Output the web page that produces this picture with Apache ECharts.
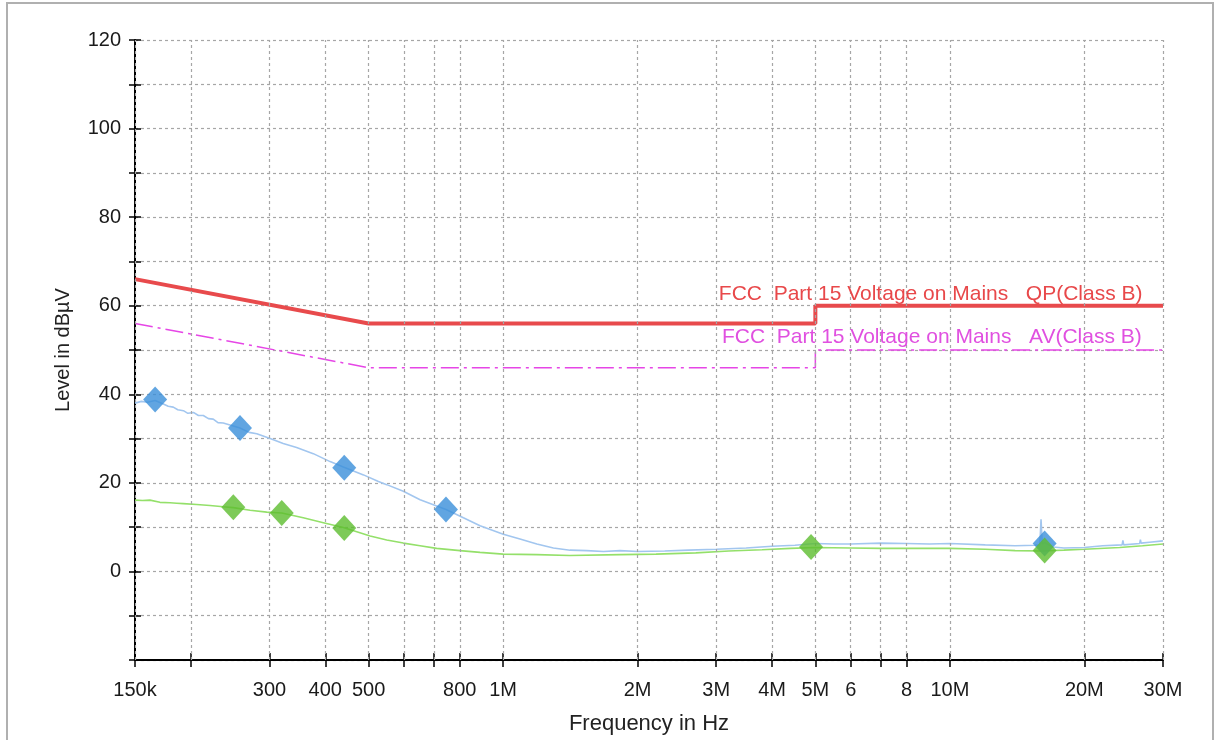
<!DOCTYPE html>
<html>
<head>
<meta charset="utf-8">
<script src="https://cdn.jsdelivr.net/npm/echarts@6/dist/echarts.min.js"></script>
<style>
html,body{margin:0;padding:0;background:#fff;}
#c{width:1216px;height:740px;}
</style>
</head>
<body>
<div id="c"></div>
<script>
// ---- axis ticks / labels (frequency in MHz) ----
var tickValues = [0.15,0.2,0.3,0.4,0.5,0.6,0.7,0.8,1,2,3,4,5,6,7,8,10,20,30];
var labelValues = [0.15,0.3,0.4,0.5,0.8,1,2,3,4,5,6,8,10,20,30];
var labelTexts = ['150k','300','400','500','800','1M','2M','3M','4M','5M','6','8','10M','20M','30M'];

// ---- limit lines [MHz, dBuV] ----
var qpLimit = [[0.15,66],[0.5,56],[5,56],[5,60],[30,60]];
var avLimit = [[0.15,56],[0.5,46],[5,46],[5,50],[30,50]];
var qpLabel = 'FCC  Part 15 Voltage on Mains   QP(Class B)';
var avLabel = 'FCC  Part 15 Voltage on Mains   AV(Class B)';

// ---- measured traces [MHz, dBuV] ----
var qpTrace = [
  [0.15,38.0],[0.155,38.4],[0.16,38.2],[0.1664,38.6],[0.1736,37.8],[0.178,37.3],[0.1827,37.1],[0.187,36.5],
  [0.1925,36.3],[0.197,35.7],[0.2027,35.9],[0.208,35.2],[0.2133,35.2],[0.219,34.5],[0.2245,34.4],[0.230,33.6],
  [0.2364,33.5],[0.2577,32.4],[0.270,31.4],[0.281,31.1],[0.301,30.0],[0.322,28.9],[0.345,28.0],[0.376,26.6],
  [0.410,24.8],[0.439,23.6],[0.487,21.8],[0.526,20.3],[0.549,19.6],[0.598,18.1],[0.652,16.2],[0.745,14.0],
  [0.815,12.1],[0.888,10.3],[1.001,8.4],[1.091,7.3],[1.19,6.2],[1.296,5.3],[1.412,4.8],[1.539,4.7],
  [1.677,4.5],[1.827,4.7],[2.0,4.5],[2.3,4.6],[2.6,4.8],[3.0,5.0],[3.5,5.3],[4.0,5.7],[4.5,5.9],[5.0,6.3],
  [5.5,6.2],[6.0,6.2],[7.0,6.4],[8.0,6.3],[9.0,6.2],[10.0,6.3],[12.0,6.0],[14.0,5.8],[15.5,5.9],
  [15.9,6.0],[16.0,11.8],[16.1,6.2],[16.3,6.5],[17.0,5.5],[18.0,5.3],[20.0,5.4],[22.0,5.8],[24.3,6.0],
  [24.4,7.0],[24.5,6.0],[26.6,6.3],[26.7,7.2],[26.8,6.4],[28.0,6.6],[30.0,6.9]
];
var avTrace = [
  [0.15,16.1],[0.156,16.0],[0.162,16.1],[0.1706,15.6],[0.1797,15.5],[0.186,15.4],[0.1925,15.3],[0.2061,15.1],
  [0.2208,14.9],[0.2364,14.6],[0.249,14.4],[0.2714,13.8],[0.2958,13.4],[0.3196,13.2],[0.357,12.1],
  [0.396,11.0],[0.439,9.9],[0.504,8.0],[0.549,7.1],[0.598,6.4],[0.652,5.8],[0.710,5.2],[0.801,4.7],
  [0.888,4.3],[1.0,3.9],[1.19,3.8],[1.41,3.6],[1.83,3.8],[2.2,3.9],[2.7,4.2],[3.2,4.6],[3.8,4.9],
  [4.4,5.2],[5.0,5.4],[6.0,5.3],[7.0,5.2],[8.5,5.2],[10.0,5.2],[12.0,5.0],[14.0,4.7],[16.0,4.6],
  [18.0,4.8],[20.0,5.0],[24.0,5.4],[27.0,5.8],[30.0,6.2]
];

// ---- final measurement markers [MHz, dBuV] ----
var qpMarkers = [[0.1664,38.8],[0.2577,32.4],[0.441,23.4],[0.745,14.0],[16.3,6.3]];
var avMarkers = [[0.249,14.5],[0.3196,13.2],[0.441,9.8],[4.89,5.5],[16.3,4.7]];

var FONT = "'Liberation Sans', Arial, sans-serif";

function fmtX(v){
  for (var i=0;i<labelValues.length;i++){
    if (Math.abs(v-labelValues[i]) < labelValues[i]*1e-6) return labelTexts[i];
  }
  return '';
}

var gridStyle = {color:'#a6a6a6', width:1.2, type:[3,3]};

var chart = echarts.init(document.getElementById('c'), null, {renderer:'canvas'});
chart.setOption({
  backgroundColor:'#ffffff',
  animation:false,
  graphic:[{
    type:'rect', silent:true, z:-10,
    shape:{x:7,y:3,width:1206,height:750},
    style:{fill:'none', stroke:'#b0b0b0', lineWidth:2}
  }],
  grid:{left:135, right:53, top:40, bottom:75},
  xAxis:[{
    type:'log', logBase:10, min:0.15, max:30,
    name:'Frequency in Hz', nameLocation:'middle', nameGap:53,
    nameTextStyle:{fontSize:22, color:'#222', fontFamily:FONT},
    axisLine:{show:true, onZero:false, lineStyle:{color:'#000', width:2}},
    axisTick:{show:true, customValues:tickValues, length:7, inside:false, lineStyle:{color:'#000', width:1.5}},
    axisLabel:{show:true, customValues:labelValues, formatter:fmtX, fontSize:20, color:'#1a1a1a', margin:20, fontFamily:FONT},
    splitLine:{show:false},
    minorTick:{show:false}
  },{
    type:'log', logBase:10, min:0.15, max:30, position:'bottom',
    axisLine:{show:false, onZero:false},
    axisTick:{show:true, customValues:tickValues, length:7, inside:true, lineStyle:{color:'#000', width:1.5}},
    axisLabel:{show:false},
    splitLine:{show:false}
  }],
  yAxis:[{
    type:'value', min:-20, max:120, interval:10,
    name:'Level in dB\u00B5V', nameLocation:'middle', nameGap:62,
    nameTextStyle:{fontSize:20, color:'#222', fontFamily:FONT},
    axisLine:{show:true, onZero:false, lineStyle:{color:'#000', width:2}},
    axisTick:{show:true, length:6, inside:false, lineStyle:{color:'#000', width:1.5}},
    axisLabel:{fontSize:20, color:'#1a1a1a', margin:14, fontFamily:FONT,
      formatter:function(v){return (v>=0 && v%20===0) ? String(v) : '';}},
    splitLine:{show:true, lineStyle:gridStyle}
  },{
    type:'value', min:-20, max:120, interval:10, position:'left',
    axisLine:{show:false, onZero:false},
    axisTick:{show:true, length:6, inside:true, lineStyle:{color:'#000', width:1.5}},
    axisLabel:{show:false},
    splitLine:{show:false}
  }],
  series:[
    {
      name:'grid-x', type:'line', data:[], silent:true,
      markLine:{
        silent:true, symbol:['none','none'], animation:false,
        label:{show:false},
        lineStyle:gridStyle,
        emphasis:{disabled:true},
        data:tickValues.map(function(v){return {xAxis:v};})
      }
    },
    {
      name:'QP limit', type:'line', data:qpLimit, symbol:'none', z:3,
      lineStyle:{color:'#e84a4c', width:4}, itemStyle:{color:'#e84a4c'},
      markPoint:{
        silent:true, symbol:'circle', symbolSize:0,
        label:{show:true, position:[0,0], align:'left', verticalAlign:'bottom', offset:[0,-1],
          color:'#e8484a', fontSize:21, fontFamily:FONT, formatter:qpLabel},
        data:[{coord:[3.04,60]}]
      }
    },
    {
      name:'AV limit', type:'line', data:avLimit, symbol:'none', z:3,
      lineStyle:{color:'#e646e6', width:1.5, type:[18,5,3,5]}, itemStyle:{color:'#e646e6'},
      markPoint:{
        silent:true, symbol:'circle', symbolSize:0,
        label:{show:true, position:[0,0], align:'left', verticalAlign:'bottom', offset:[0,-2],
          color:'#e050e0', fontSize:21, fontFamily:FONT, formatter:avLabel},
        data:[{coord:[3.09,50]}]
      }
    },
    {
      name:'QP trace', type:'line', data:qpTrace, symbol:'none', z:4,
      lineStyle:{color:'#a2c6ef', width:1.6}, itemStyle:{color:'#a2c6ef'}
    },
    {
      name:'AV trace', type:'line', data:avTrace, symbol:'none', z:4,
      lineStyle:{color:'#94e06a', width:1.6}, itemStyle:{color:'#94e06a'}
    },
    {
      name:'QP final', type:'scatter', data:qpMarkers, symbol:'diamond', symbolSize:[24,26], z:5,
      itemStyle:{color:'#3a8fda'}
    },
    {
      name:'AV final', type:'scatter', data:avMarkers, symbol:'diamond', symbolSize:[24,26], z:6,
      itemStyle:{color:'#5dbd2e'}
    }
  ]
});
</script>
</body>
</html>
